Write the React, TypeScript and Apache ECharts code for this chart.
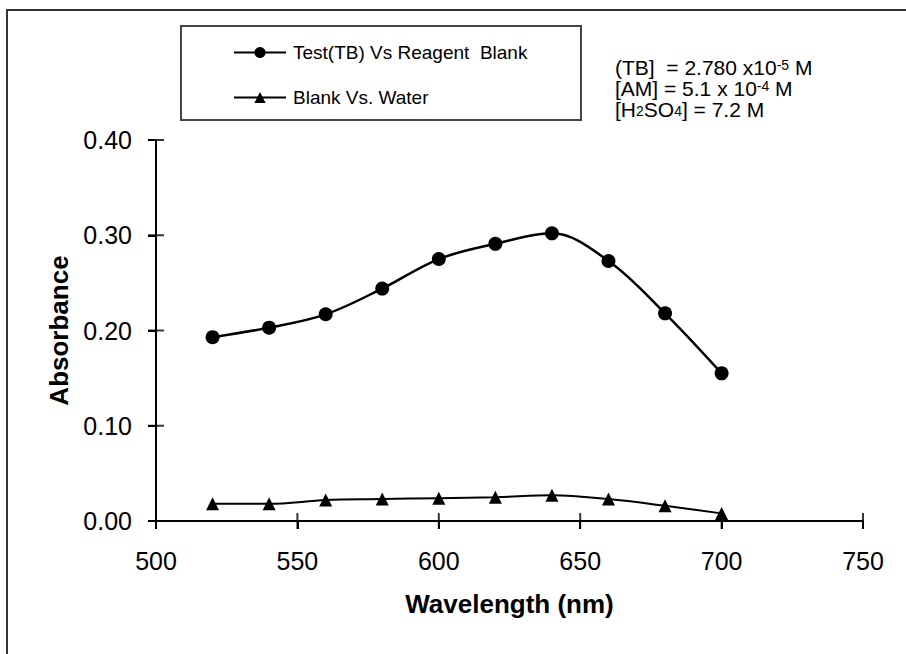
import React, { useEffect, useRef } from "react";
import * as echarts from "echarts";

const wavelengths = [520, 540, 560, 580, 600, 620, 640, 660, 680, 700];
const testVsBlank = [0.193, 0.203, 0.217, 0.244, 0.275, 0.291, 0.302, 0.273, 0.218, 0.155];
const blankVsWater = [0.018, 0.018, 0.022, 0.023, 0.024, 0.025, 0.027, 0.023, 0.016, 0.008];
const seriesNames = ["Test(TB) Vs Reagent  Blank", "Blank Vs. Water"];
const xTickValues = [500, 550, 600, 650, 700, 750];
const yTickValues = [0, 0.1, 0.2, 0.3, 0.4];
const xRange = { min: 500, max: 750, interval: 50 };
const yRange = { min: 0, max: 0.4, interval: 0.1 };

const FONT = "Liberation Sans, Arial, sans-serif";

const GRID = { left: 156, right: 43, top: 140, bottom: 133 };
const W = 906;
const H = 654;
const TICK = 8;

export default function App() {
  const ref = useRef<HTMLDivElement>(null);
  useEffect(() => {
    if (!ref.current) return;
    const chart = echarts.init(ref.current, null, { renderer: "svg" });
    const axisLineStyle = { color: "#000", width: 2 };
    const richStyles = {
      n: { fontSize: 21, fontFamily: FONT, color: "#000", lineHeight: 18 },
      sup: { fontSize: 14, fontFamily: FONT, color: "#000", verticalAlign: "top", lineHeight: 18 },
      sub: { fontSize: 14, fontFamily: FONT, color: "#000", verticalAlign: "bottom", lineHeight: 16 },
    };
    const xInner = xTickValues.map((v) => [v, yRange.min]);
    const yInner = yTickValues.map((v) => [xRange.min, v]);
    chart.setOption({
      animation: false,
      backgroundColor: "#fff",
      grid: { ...GRID, containLabel: false },
      xAxis: {
        type: "value",
        min: xRange.min,
        max: xRange.max,
        interval: xRange.interval,
        position: "bottom",
        axisLine: { show: true, onZero: false, lineStyle: axisLineStyle },
        splitLine: { show: false },
        name: "Wavelength (nm)",
        nameLocation: "middle",
        nameGap: 70,
        nameTextStyle: { fontSize: 26, fontWeight: "bold", fontFamily: FONT, color: "#000" },
        axisTick: { show: true, length: TICK, lineStyle: axisLineStyle },
        axisLabel: { show: true, margin: 27, fontSize: 25, fontFamily: FONT, color: "#000" },
      },
      yAxis: {
        type: "value",
        min: yRange.min,
        max: yRange.max,
        interval: yRange.interval,
        position: "left",
        axisLine: { show: true, onZero: false, lineStyle: axisLineStyle },
        splitLine: { show: false },
        name: "Absorbance",
        nameLocation: "middle",
        nameRotate: 90,
        nameGap: 78,
        nameTextStyle: { fontSize: 26, fontWeight: "bold", fontFamily: FONT, color: "#000" },
        axisTick: { show: true, length: TICK, lineStyle: axisLineStyle },
        axisLabel: {
          show: true,
          margin: 24,
          fontSize: 25,
          fontFamily: FONT,
          color: "#000",
          formatter: (v: number) => v.toFixed(2),
        },
      },
      legend: {
        left: 233,
        top: 43,
        orient: "vertical",
        itemWidth: 52,
        itemHeight: 14,
        itemGap: 26,
        padding: 0,
        textStyle: { fontSize: 19, fontFamily: FONT, color: "#000", padding: [0, 0, 0, 2] },
        data: seriesNames,
      },
      graphic: [
        {
          type: "polyline",
          shape: { points: [[7, 660], [7, 10], [910, 10]] },
          style: { stroke: "#333", lineWidth: 2, fill: null },
          silent: true,
        },
        {
          type: "rect",
          shape: { x: 181, y: 26, width: 400, height: 94 },
          style: { stroke: "#444", lineWidth: 2, fill: "none" },
          silent: true,
        },
        {
          type: "text",
          x: 615,
          y: 67,
          style: {
            text: "{n|(TB]  = 2.780 x10}{sup|-5}{n| M}",
            rich: richStyles,
            verticalAlign: "middle",
          },
        },
        {
          type: "text",
          x: 615,
          y: 88,
          style: {
            text: "{n|[AM] = 5.1 x 10}{sup|-4}{n| M}",
            rich: richStyles,
            verticalAlign: "middle",
          },
        },
        {
          type: "text",
          x: 615,
          y: 109,
          style: {
            text: "{n|[H}{sub|2}{n|SO}{sub|4}{n|] = 7.2 M}",
            rich: richStyles,
            verticalAlign: "middle",
          },
        },
      ],
      series: [
        {
          name: seriesNames[0],
          type: "line",
          smooth: 0.35,
          symbol: "circle",
          symbolSize: 14,
          itemStyle: { color: "#000" },
          lineStyle: { color: "#000", width: 2.5 },
          data: wavelengths.map((w, i) => [w, testVsBlank[i]]),
        },
        {
          name: seriesNames[1],
          type: "line",
          smooth: 0.35,
          symbol: "triangle",
          symbolSize: 13,
          itemStyle: { color: "#000" },
          lineStyle: { color: "#000", width: 2 },
          data: wavelengths.map((w, i) => [w, blankVsWater[i]]),
        },
        {
          name: "xInnerTicks",
          type: "scatter",
          silent: true,
          clip: false,
          symbol: "rect",
          symbolSize: [2, TICK * 2],
          symbolOffset: [0, 0],
          itemStyle: { color: "#000" },
          data: xInner,
          z: 3,
        },
        {
          name: "yInnerTicks",
          type: "scatter",
          silent: true,
          clip: false,
          symbol: "rect",
          symbolSize: [TICK * 2, 2],
          symbolOffset: [0, 0],
          itemStyle: { color: "#000" },
          data: yInner,
          z: 3,
        },
      ],
    });
    return () => chart.dispose();
  }, []);
  return (
    <div
      ref={ref}
      style={{ position: "absolute", left: 0, top: 0, width: W, height: H }}
    />
  );
}
